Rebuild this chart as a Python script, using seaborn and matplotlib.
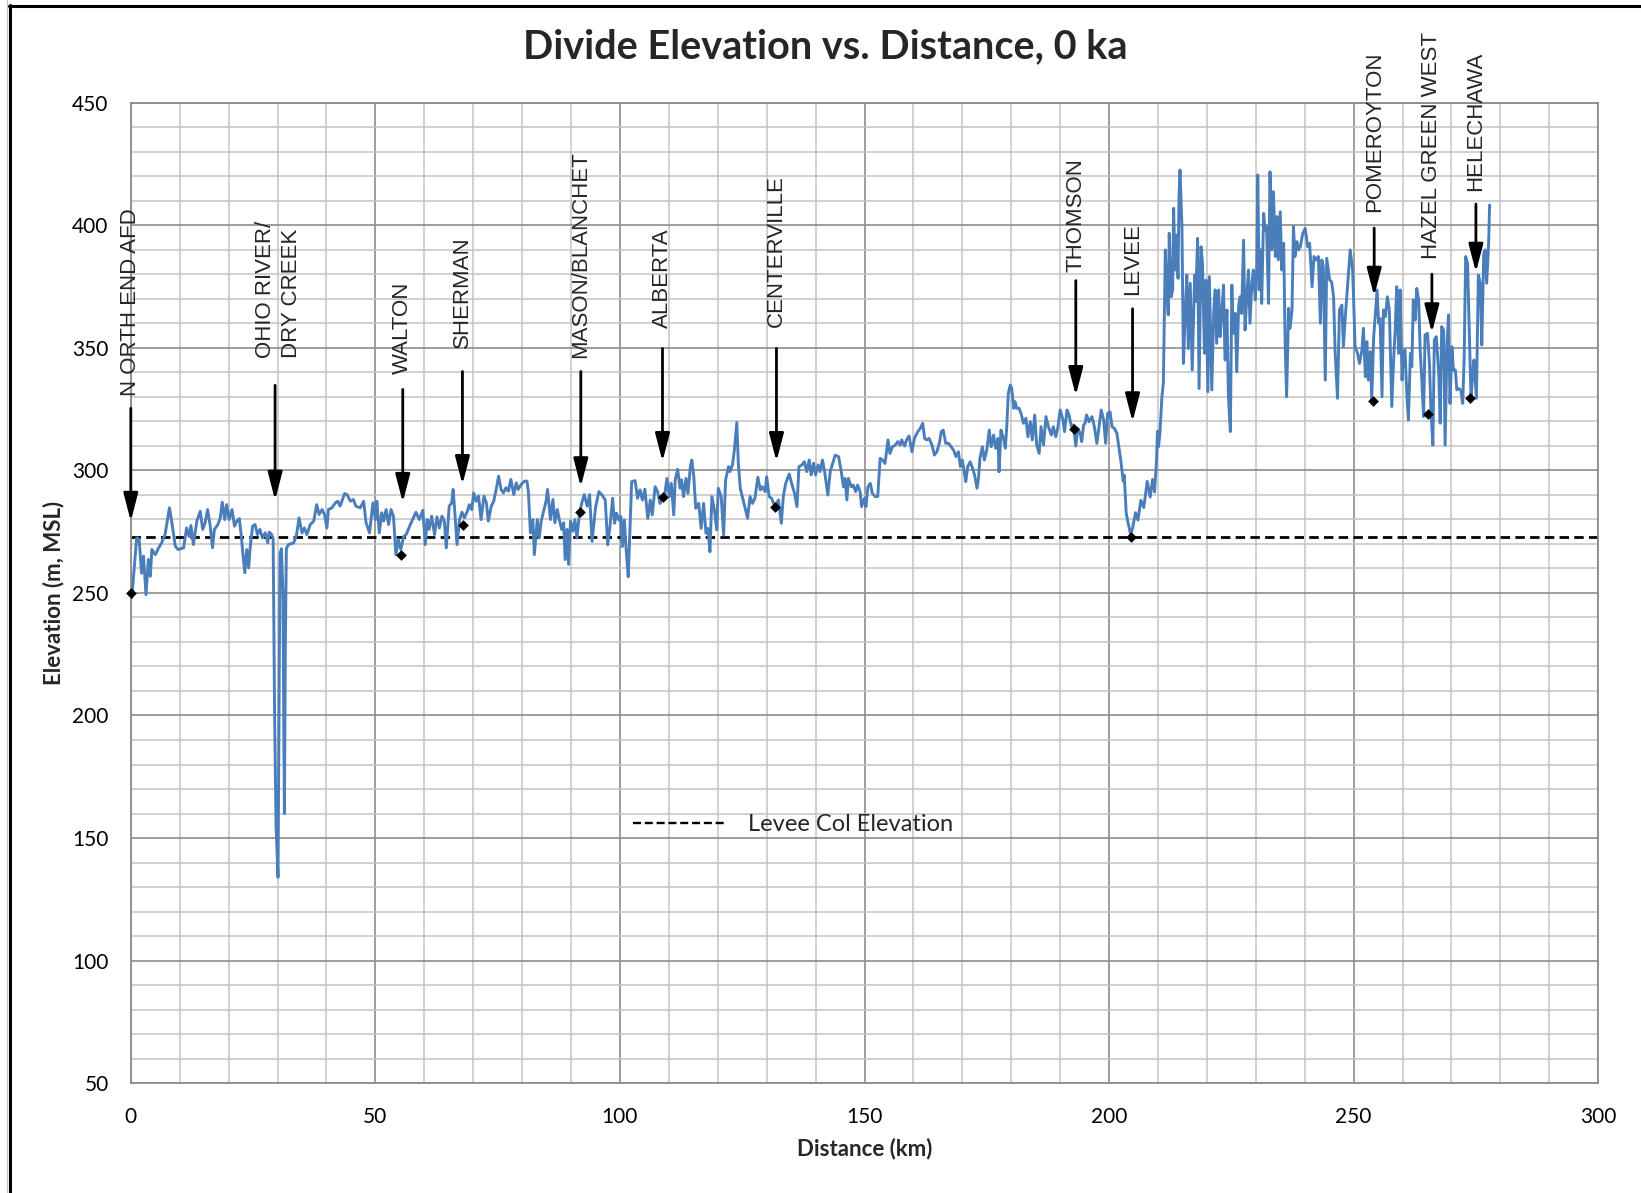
import matplotlib
matplotlib.use("Agg")
import matplotlib.pyplot as plt
from matplotlib.lines import Line2D
from matplotlib.ticker import MultipleLocator
import seaborn as sns
import pandas as pd

# ---- divide profile: distance along divide (km) and elevation (m, MSL) ----
distance_km = [
    0.2, 1.2, 1.7, 2.2, 2.6, 3.1, 3.6, 4.0, 4.3, 5.0, 5.7, 6.3, 7.0, 7.4, 7.9, 8.4, 9.1, 9.7,
    10.8, 11.4, 11.9, 12.3, 12.8, 13.5, 14.2, 14.7, 15.2, 15.7, 16.2, 16.7, 17.1, 17.8, 18.3,
    18.7, 19.2, 19.6, 20.1, 20.7, 21.2, 21.7, 22.2, 22.6, 22.9, 23.3, 23.7, 24.1, 24.4, 24.9,
    25.4, 25.9, 26.4, 26.9, 27.5, 28.0, 28.3, 28.8, 29.1, 29.4, 29.7, 30.0, 30.1, 30.3, 30.5,
    30.8, 31.1, 31.4, 31.6, 31.8, 32.2, 33.3, 33.9, 34.4, 35.0, 35.5, 36.0, 36.7, 37.4, 38.0,
    38.5, 39.1, 39.6, 40.1, 40.4, 41.1, 41.8, 42.3, 42.8, 43.7, 44.2, 44.9, 45.5, 46.0, 46.9,
    47.6, 48.1, 48.8, 49.5, 50.0, 50.3, 50.8, 51.3, 51.7, 52.2, 52.7, 53.2, 53.7, 54.2, 54.7,
    55.2, 55.8, 56.3, 57.0, 57.6, 58.3, 59.0, 59.7, 60.2, 60.6, 61.0, 61.5, 62.1, 62.6, 63.1,
    63.6, 64.1, 64.5, 65.1, 65.6, 65.9, 66.3, 66.7, 67.2, 67.7, 68.2, 68.8, 69.2, 69.7, 70.1,
    70.6, 71.1, 71.6, 72.2, 72.7, 73.1, 73.7, 74.2, 74.7, 75.2, 75.7, 76.2, 76.7, 77.2, 77.7,
    78.3, 78.8, 79.2, 79.8, 80.5, 81.0, 81.3, 81.7, 82.2, 82.5, 83.1, 83.5, 83.9, 84.4, 84.9,
    85.2, 85.8, 86.3, 86.7, 87.2, 87.6, 88.1, 88.5, 88.8, 89.2, 89.5, 89.9, 90.4, 90.8, 91.2,
    91.7, 92.2, 92.7, 93.3, 93.8, 94.3, 95.0, 95.7, 96.3, 97.0, 97.5, 98.0, 98.5, 98.9, 99.3,
    99.8, 100.2, 100.5, 100.9, 101.3, 101.7, 102.1, 102.4, 103.1, 103.6, 104.1, 104.6, 105.1,
    105.7, 106.2, 106.6, 107.2, 107.7, 108.2, 108.9, 109.2, 109.6, 110.1, 110.5, 111.0, 111.3,
    111.8, 112.3, 112.6, 113.0, 113.5, 113.9, 114.4, 114.7, 115.1, 115.5, 116.1, 116.6, 117.1,
    117.6, 118.0, 118.4, 118.8, 119.3, 119.8, 120.1, 120.7, 121.2, 121.6, 122.2, 122.5, 123.0,
    123.4, 123.9, 124.2, 124.6, 125.1, 125.6, 126.1, 126.6, 127.1, 127.6, 128.2, 128.7, 129.1,
    129.7, 130.0, 130.5, 131.0, 131.7, 132.4, 133.0, 133.4, 133.9, 134.6, 135.1, 135.7, 136.2,
    136.6, 137.2, 137.7, 138.2, 138.7, 139.1, 139.6, 140.0, 140.5, 140.9, 141.4, 141.9, 142.5,
    143.0, 143.5, 144.0, 144.7, 145.2, 145.7, 146.0, 146.4, 146.7, 147.3, 147.7, 148.2, 148.6,
    149.1, 149.4, 150.0, 150.3, 150.7, 151.2, 151.6, 152.2, 152.7, 153.2, 153.7, 154.2, 154.8,
    155.2, 155.7, 156.3, 156.8, 157.3, 157.6, 158.2, 158.6, 159.1, 159.7, 160.2, 160.9, 161.4,
    161.9, 162.3, 162.7, 163.2, 163.8, 164.3, 164.8, 165.3, 165.7, 166.1, 166.6, 167.2, 167.7,
    168.2, 168.7, 169.2, 169.6, 170.0, 170.4, 170.7, 171.1, 171.6, 172.1, 172.5, 173.0, 173.3,
    173.6, 174.1, 174.5, 175.0, 175.5, 175.9, 176.4, 176.8, 177.3, 177.5, 177.9, 178.4, 178.8,
    179.1, 179.4, 179.8, 180.1, 180.5, 180.8, 181.1, 181.6, 182.0, 182.5, 183.0, 183.4, 183.9,
    184.3, 184.8, 185.2, 185.7, 186.1, 186.6, 187.1, 187.6, 188.2, 188.6, 189.1, 189.5, 190.0,
    190.5, 190.9, 191.4, 191.8, 192.3, 192.7, 193.2, 193.6, 194.1, 194.4, 194.8, 195.1, 195.4,
    195.9, 196.5, 197.0, 197.5, 198.0, 198.4, 198.9, 199.3, 199.7, 200.2, 200.6, 201.1, 201.6,
    201.9, 202.4, 202.9, 203.1, 203.5, 203.9, 204.4, 204.8, 205.4, 205.9, 206.5, 207.1, 207.8,
    208.4, 208.9, 209.3, 209.7, 209.9, 210.1, 210.4, 210.8, 211.1, 211.5, 211.8, 212.1, 212.3,
    212.7, 213.0, 213.2, 213.5, 213.8, 214.1, 214.3, 214.5, 214.9, 215.2, 215.6, 215.9, 216.2,
    216.6, 217.0, 217.5, 217.7, 218.1, 218.4, 218.8, 219.1, 219.5, 219.8, 220.2, 220.5, 221.0,
    221.4, 221.7, 222.0, 222.4, 222.7, 223.0, 223.4, 223.7, 224.1, 224.4, 224.8, 225.1, 225.4,
    225.8, 226.1, 226.5, 226.8, 227.1, 227.5, 227.8, 228.2, 228.5, 228.8, 229.2, 229.5, 229.9,
    230.2, 230.4, 230.7, 231.0, 231.2, 231.6, 231.9, 232.2, 232.6, 232.9, 233.3, 233.6, 234.0,
    234.3, 234.6, 235.0, 235.3, 235.7, 236.0, 236.3, 236.7, 237.0, 237.4, 237.7, 238.0, 238.4,
    238.7, 239.1, 239.6, 240.1, 240.6, 241.0, 241.5, 241.9, 242.3, 242.8, 243.2, 243.5, 243.8,
    244.2, 244.5, 245.1, 245.5, 245.9, 246.2, 246.7, 247.1, 247.6, 247.9, 248.3, 248.8, 249.3,
    249.8, 250.3, 250.8, 251.2, 251.7, 252.0, 252.4, 252.7, 253.0, 253.4, 253.7, 254.1, 254.4,
    254.8, 255.1, 255.4, 255.8, 256.1, 256.5, 256.9, 257.3, 257.8, 258.2, 258.5, 258.8, 259.2,
    259.5, 259.9, 260.2, 260.5, 260.9, 261.2, 261.6, 261.9, 262.2, 262.6, 262.9, 263.3, 263.6,
    263.9, 264.3, 264.6, 265.1, 265.5, 265.8, 266.2, 266.5, 266.9, 267.4, 267.7, 268.0, 268.4,
    268.7, 269.1, 269.4, 269.7, 270.1, 270.4, 270.8, 271.1, 271.4, 271.9, 272.3, 272.6, 272.9,
    273.3, 273.6, 274.0, 274.4, 274.6, 275.1, 275.5, 275.9, 276.2, 276.6, 276.9, 277.2, 277.6,
    277.8,
]

elevation_m = [
    248.0, 272.4, 272.0, 258.0, 265.0, 249.3, 263.6, 256.8, 267.7, 265.6, 268.4, 270.4, 273.8,
    278.6, 284.7, 278.6, 269.0, 267.7, 268.4, 276.5, 273.1, 277.5, 269.7, 279.3, 283.3, 275.9,
    278.6, 284.0, 277.9, 268.4, 275.9, 277.9, 280.6, 287.0, 279.9, 286.0, 279.9, 284.0, 277.2,
    279.3, 280.3, 273.1, 266.3, 258.2, 267.7, 260.2, 268.4, 277.2, 277.9, 273.8, 275.9, 272.4,
    274.5, 270.4, 274.8, 273.8, 272.0, 200.0, 155.0, 140.0, 134.0, 200.0, 266.0, 268.0, 250.0,
    160.0, 230.0, 268.0, 269.7, 270.4, 273.8, 280.6, 274.5, 276.5, 273.8, 277.9, 279.3, 286.0,
    282.0, 284.0, 282.0, 276.5, 284.0, 284.7, 286.7, 287.4, 285.4, 290.5, 290.1, 287.4, 288.1,
    285.4, 284.7, 287.4, 278.6, 274.5, 286.7, 279.9, 287.4, 274.5, 282.7, 279.3, 284.0, 277.9,
    284.0, 281.3, 265.6, 271.8, 267.7, 273.1, 273.8, 277.2, 279.9, 282.9, 279.9, 283.7, 269.7,
    279.9, 275.9, 281.3, 273.8, 281.0, 276.5, 281.3, 279.3, 268.4, 285.4, 286.7, 292.2, 281.3,
    269.7, 279.9, 282.9, 280.6, 283.3, 286.0, 284.0, 290.8, 287.4, 289.5, 279.9, 289.5, 286.7,
    279.3, 285.4, 287.4, 292.2, 297.6, 292.2, 290.8, 292.9, 291.5, 296.3, 290.1, 294.9, 292.2,
    294.2, 295.6, 295.6, 290.8, 274.5, 279.9, 265.6, 279.9, 272.4, 279.3, 283.3, 287.4, 292.2,
    279.9, 288.1, 278.6, 284.0, 279.9, 275.9, 278.6, 263.6, 275.9, 261.6, 279.3, 275.2, 279.9,
    272.4, 282.0, 286.7, 290.1, 285.4, 290.1, 271.0, 284.7, 291.3, 290.0, 287.9, 269.6, 277.7,
    288.6, 278.4, 282.5, 279.7, 281.1, 268.9, 279.7, 266.8, 256.6, 278.4, 295.4, 295.8, 288.6,
    292.0, 287.9, 292.3, 280.4, 287.9, 281.8, 293.3, 291.3, 286.5, 289.0, 290.6, 296.7, 289.3,
    294.7, 281.8, 296.1, 300.4, 292.7, 296.1, 289.3, 296.7, 290.6, 301.5, 304.2, 297.4, 284.5,
    286.5, 276.3, 286.5, 274.3, 276.3, 266.8, 289.3, 283.8, 275.7, 292.7, 289.3, 273.6, 296.1,
    301.5, 299.5, 302.2, 308.3, 319.5, 302.9, 292.7, 288.6, 284.5, 280.4, 289.3, 286.5, 288.6,
    297.2, 292.0, 293.3, 291.3, 297.4, 289.3, 288.6, 285.2, 287.9, 278.4, 289.3, 294.7, 298.5,
    294.7, 290.6, 285.2, 301.5, 302.2, 303.5, 299.5, 304.2, 298.1, 302.9, 298.1, 302.2, 299.5,
    304.2, 298.8, 289.9, 299.5, 302.9, 306.2, 305.6, 300.1, 293.3, 296.7, 287.9, 296.7, 293.3,
    294.0, 291.3, 294.0, 291.3, 285.2, 288.6, 285.2, 293.3, 294.7, 290.6, 289.3, 289.3, 304.9,
    304.2, 302.8, 312.4, 306.9, 309.6, 310.3, 311.7, 310.3, 312.4, 309.9, 312.4, 314.0, 307.6,
    313.0, 315.8, 317.1, 319.2, 313.0, 312.4, 313.0, 310.3, 306.2, 307.6, 311.0, 315.8, 316.4,
    311.0, 311.0, 309.6, 308.3, 305.6, 307.6, 301.5, 304.2, 299.4, 295.4, 301.5, 303.5, 300.8,
    298.1, 292.7, 296.7, 304.9, 309.6, 304.2, 308.3, 316.4, 309.6, 314.4, 309.0, 313.0, 299.4,
    316.4, 313.0, 309.0, 318.5, 331.4, 334.8, 333.4, 325.3, 328.0, 325.3, 325.3, 323.2, 319.2,
    321.2, 313.7, 319.8, 312.4, 322.6, 310.3, 306.9, 317.8, 310.3, 321.9, 317.8, 314.4, 317.8,
    313.7, 317.1, 324.6, 321.2, 315.8, 324.6, 322.6, 317.8, 318.5, 309.9, 317.1, 315.1, 311.7,
    318.5, 319.2, 322.6, 319.8, 321.9, 317.8, 311.0, 318.5, 324.6, 320.5, 311.0, 323.2, 323.9,
    317.8, 317.1, 315.1, 311.0, 304.0, 295.5, 298.0, 282.7, 278.4, 274.1, 276.3, 282.7, 279.7,
    287.8, 284.8, 295.5, 289.1, 296.3, 291.2, 304.0, 316.0, 309.6, 315.1, 330.0, 335.5, 389.9,
    373.6, 363.4, 396.7, 370.8, 373.6, 406.9, 381.7, 396.0, 378.3, 411.6, 422.5, 399.4, 343.6,
    365.4, 379.7, 349.7, 376.3, 340.9, 379.7, 368.8, 394.6, 333.4, 391.2, 384.4, 347.7, 377.6,
    332.1, 379.0, 332.8, 365.4, 373.6, 351.8, 373.6, 354.5, 362.7, 375.6, 345.0, 365.4, 330.0,
    315.8, 375.6, 355.9, 364.0, 340.2, 367.4, 370.8, 364.0, 393.9, 357.2, 372.2, 381.7, 360.0,
    376.3, 381.7, 369.5, 383.1, 420.5, 373.6, 389.9, 368.1, 404.8, 398.0, 399.4, 368.1, 421.8,
    389.9, 413.7, 387.2, 403.5, 385.8, 405.5, 381.7, 392.6, 351.8, 330.0, 366.1, 357.9, 365.4,
    399.4, 387.2, 393.3, 389.9, 391.2, 396.7, 398.7, 391.2, 392.6, 374.9, 387.2, 385.8, 387.2,
    360.0, 385.8, 383.1, 336.8, 386.5, 377.6, 376.9, 370.8, 349.1, 329.4, 365.4, 367.4, 350.4,
    362.7, 376.3, 389.9, 381.7, 350.4, 347.7, 343.6, 349.1, 357.9, 338.2, 352.5, 336.8, 348.4,
    328.7, 354.5, 362.7, 373.6, 360.0, 362.0, 330.0, 365.4, 362.7, 370.8, 365.4, 326.0, 346.3,
    357.2, 374.9, 347.7, 373.6, 336.8, 347.7, 349.1, 330.0, 320.5, 347.7, 342.3, 369.5, 361.3,
    374.2, 369.5, 349.1, 338.2, 321.9, 355.2, 355.9, 343.6, 324.6, 310.3, 353.2, 354.5, 339.6,
    319.2, 358.6, 357.2, 310.3, 351.8, 363.4, 327.3, 350.4, 340.9, 340.9, 332.8, 333.4, 332.8,
    327.3, 346.3, 387.2, 384.4, 360.0, 329.4, 340.9, 345.0, 329.4, 379.7, 376.3, 351.1, 388.5,
    389.9, 376.3, 392.6, 408.2,
]

# ---- named sites along the divide ----
site_names = [
    "N ORTH END AFD", "OHIO RIVER/\nDRY CREEK", "WALTON", "SHERMAN", "MASON/BLANCHET",
    "ALBERTA", "CENTERVILLE", "THOMSON", "LEVEE", "POMEROYTON", "HAZEL GREEN WEST",
    "HELECHAWA",
]
site_km = [0.0, 30.2, 55.6, 67.8, 92.0, 108.7, 132.0, 193.2, 204.8, 254.2, 266.0, 275.0]

# site elevations marked on the profile (Ohio River/Dry Creek has no marker)
marker_km = [0.0, 55.2, 67.9, 91.9, 108.9, 131.7, 192.8, 204.4, 253.9, 265.3, 273.8]
marker_elev = [250.0, 265.4, 277.5, 282.9, 289.0, 285.2, 316.9, 273.0, 328.4, 322.8, 329.4]

# levee col reference elevation
levee_col_elev = 273.0

# label placement: (label base, arrow start, arrow tip) in metres
label_base = [330.5, 345.8, 339.4, 350.1, 345.8, 358.2, 358.6, 380.8, 371.5, 405.2, 386.4, 414.1]
arrow_top = [325.3, 334.7, 333.0, 340.3, 340.3, 349.7, 349.7, 377.4, 365.9, 398.8, 380.0, 408.6]
arrow_tip = [279.2, 287.8, 286.9, 294.2, 293.3, 303.6, 303.6, 330.5, 319.8, 371.0, 356.1, 380.8]
arrow_km = [0.0, 29.5, 55.6, 67.8, 92.0, 108.7, 132.0, 193.2, 204.8, 254.2, 266.0, 275.0]

profile = pd.DataFrame({"distance": distance_km, "elevation": elevation_m})
markers = pd.DataFrame({"distance": marker_km, "elevation": marker_elev})
levee = pd.DataFrame({"distance": [0, 300], "elevation": [levee_col_elev, levee_col_elev]})

sns.set_style("white")
plt.rcParams["font.family"] = ["Lato", "DejaVu Sans"]

W, H = 1641, 1193
fig = plt.figure(figsize=(W / 100, H / 100), dpi=100)
ax = fig.add_axes([130.8 / W, 1 - 1083.2 / H, 1467.4 / W, 980.6 / H])

major_col = "#8C8C8C"
minor_col = "#C4C4C4"

ax.set_xlim(0, 300)
ax.set_ylim(50, 450)
ax.xaxis.set_major_locator(MultipleLocator(50))
ax.yaxis.set_major_locator(MultipleLocator(50))
ax.xaxis.set_minor_locator(MultipleLocator(10))
ax.yaxis.set_minor_locator(MultipleLocator(10))
ax.grid(which="minor", color=minor_col, linewidth=1.1, zorder=0)
ax.grid(which="major", color=major_col, linewidth=1.2, zorder=0)
ax.set_axisbelow(True)
for sp in ax.spines.values():
    sp.set_color(major_col)
    sp.set_linewidth(1.3)
ax.tick_params(which="major", length=5, width=1.3, color=major_col,
               labelsize=15, labelcolor="black")
ax.tick_params(axis="y", which="major", pad=11)
ax.tick_params(axis="x", which="major", pad=12)
ax.tick_params(which="minor", length=0)

# levee col line
sns.lineplot(data=levee, x="distance", y="elevation", ax=ax, color="black",
             linewidth=2.0, dashes=False, zorder=2)
ax.lines[-1].set_linestyle((0, (3.4, 1.9)))

# elevation profile
sns.lineplot(data=profile, x="distance", y="elevation", ax=ax, color="#4A7EBB",
             linewidth=2.1, estimator=None, sort=False, zorder=3)

# site markers
sns.scatterplot(data=markers, x="distance", y="elevation", ax=ax, marker="D",
                color="black", s=30, edgecolor="black", linewidth=0, zorder=4,
                clip_on=False)

# site labels and arrows
for name, xk, base, top, tip, ak in zip(site_names, site_km, label_base,
                                        arrow_top, arrow_tip, arrow_km):
    ax.text(xk, base, name, rotation=90, ha="center", va="bottom",
            family=["Liberation Sans", "DejaVu Sans"], fontsize=16,
            multialignment="left", linespacing=1.35, zorder=5)
    ax.annotate("", xy=(ak, tip), xytext=(ak, top),
                arrowprops=dict(arrowstyle="-|>,head_length=0.85,head_width=0.22",
                                color="black", lw=2.0, shrinkA=0, shrinkB=0,
                                mutation_scale=20),
                zorder=5, annotation_clip=False)

ax.set_xlabel("Distance (km)", fontsize=16, fontweight="bold", labelpad=8)
ax.set_ylabel("Elevation (m, MSL)", fontsize=16, fontweight="bold", labelpad=6)

leg_handle = Line2D([], [], color="black", linewidth=1.7, linestyle=(0, (3.4, 1.6)))
ax.legend([leg_handle], ["Levee Col Elevation"], loc="center left",
          bbox_to_anchor=(0.342, 0.264), frameon=False, handlelength=4.0,
          handletextpad=0.9, borderpad=0, borderaxespad=0,
          prop={"family": "Lato", "size": 17})

fig.text(0.503, 1 - 47 / H, "Divide Elevation vs. Distance, 0 ka", ha="center",
         va="center", fontsize=28.5, fontweight="bold")

# chart frame
fig.add_artist(Line2D([6.7 / W, 6.7 / W], [0, 1], color="#C8C8C8", linewidth=1.0))
fig.add_artist(Line2D([10.3 / W, 10.3 / W], [0, 1 - 5 / H], color="black", linewidth=2.2))
fig.add_artist(Line2D([9.2 / W, 1], [1 - 6.2 / H, 1 - 6.2 / H], color="black", linewidth=2.2))

fig.savefig("out.png", dpi=100)
